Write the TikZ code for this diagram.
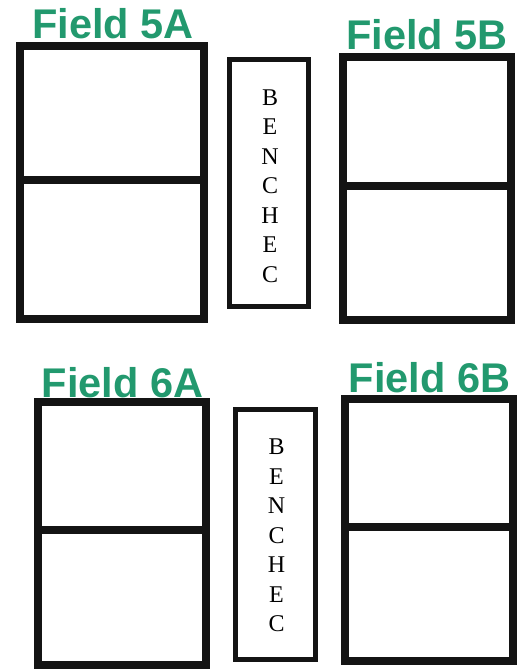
\documentclass[tikz,border=0pt]{standalone}
\usepackage{fontspec}
\setmainfont{Liberation Serif}
\newfontfamily\labelfont{Liberation Sans}
\definecolor{fieldgreen}{RGB}{34,153,110}
\begin{document}
\begin{tikzpicture}[x=1pt,y=-1pt,
  fieldline/.style={line width=8pt,line join=miter,draw=black!92},
  benchline/.style={line width=5pt,line join=miter,draw=black!92},
  fieldlabel/.style={font=\labelfont\bfseries\fontsize{41.5}{41.5}\selectfont,text=fieldgreen,anchor=base,inner sep=0pt},
  benchtext/.style={font=\fontsize{24}{29.5}\selectfont,align=center,inner sep=0pt,anchor=center}]
\useasboundingbox (0,0) rectangle (517,669);
% Field 5A
\draw[fieldline] (20,46) rectangle (204,318.5);
\draw[fieldline] (20,180) -- (204,180);
\node[fieldlabel] (l5a) at (113,39) {Field 5A};
% Field 5B
\draw[fieldline] (343,57) rectangle (511,320);
\draw[fieldline] (343,186) -- (511,186);
\node[fieldlabel] (l5b) at (427,50) {Field 5B};
% Field 6A
\draw[fieldline] (37.5,402) rectangle (206,665);
\draw[fieldline] (37.5,529.5) -- (206,529.5);
\node[fieldlabel] (l6a) at (122.5,397) {Field 6A};
% Field 6B
\draw[fieldline] (344.5,399) rectangle (513,661);
\draw[fieldline] (344.5,526.5) -- (513,526.5);
\node[fieldlabel] (l6b) at (429.5,392) {Field 6B};
% Benches
\draw[benchline] (229.5,59.5) rectangle (308.5,306.5);
\node[benchtext] (b1) at (270,186) {B\\E\\N\\C\\H\\E\\C};
\draw[benchline] (235.5,409.5) rectangle (315.5,659);
\node[benchtext] (b2) at (276.5,535.5) {B\\E\\N\\C\\H\\E\\C};
\end{tikzpicture}
\end{document}
